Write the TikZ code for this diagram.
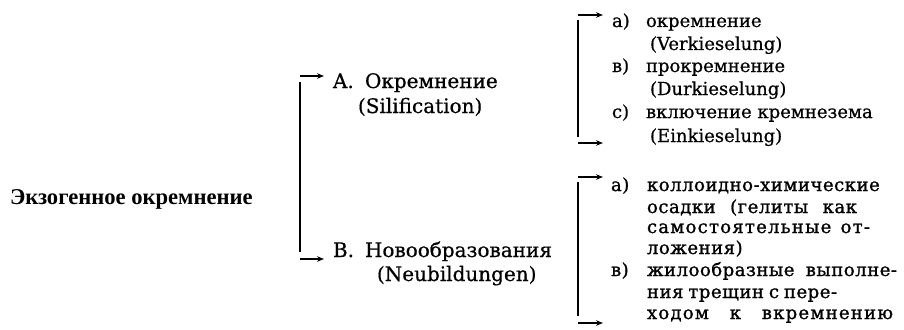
\documentclass[tikz,border=0pt]{standalone}
\usepackage{fontspec}
\setmainfont{DejaVu Serif}
\newfontfamily\titlefont{Liberation Serif}
\newfontfamily\rbfont[LetterSpace=3,FakeBold=1.2]{DejaVu Serif}
\newfontfamily\rcfont[LetterSpace=7,FakeBold=1.2]{DejaVu Serif}
\newfontfamily\rafont[FakeBold=0.6]{DejaVu Serif}
\usetikzlibrary{arrows.meta}
\newcommand{\jline}[2]{\makebox[#1pt][s]{#2}}
\begin{document}
\begin{tikzpicture}[x=1pt,y=-1pt,
  txt/.style={anchor=base west, inner sep=0pt, outer sep=0pt},
  ra/.style={txt, font=\rafont\fontsize{18}{18}\selectfont},
  rb/.style={txt, font=\rbfont\fontsize{18}{18}\selectfont},
  rc/.style={txt, font=\rcfont\fontsize{18}{18}\selectfont},
  mid/.style={txt, font=\rafont\fontsize{20}{20}\selectfont},
  bar/.style={line width=1.8pt},
  arr/.style={line width=1.2pt, -{Stealth[length=7pt,width=5.5pt]}}]
\fill[white] (0,0) rectangle (904,329);
\useasboundingbox (0,0) rectangle (904,329);

% title
\node[txt, font=\titlefont\bfseries\fontsize{22.6}{22.6}\selectfont] (title) at (10,204) {Экзогенное окремнение};

% middle column
\node[mid] (Alab) at (333,88) {A.};
\node[mid] (Atxt) at (365,88) {Окремнение};
\node[mid] (Asub) at (358,113) {(Silification)};
\node[mid] (Blab) at (333,257) {B.};
\node[mid] (Btxt) at (365,257) {Новообразования};
\node[mid] (Bsub) at (377,281) {(Neubildungen)};

% bracket 1
\coordinate (b1a) at (300,76);  \coordinate (b1ae) at (324,76);
\coordinate (b1t) at (300,82);  \coordinate (b1b) at (300,252);
\coordinate (b1c) at (300,259); \coordinate (b1ce) at (324,259);
\draw[bar] (b1t) -- (b1b);
\draw[arr] (b1a) -- (b1ae);
\draw[arr] (b1c) -- (b1ce);

% top right group
\node[ra] (a1l) at (612,27) {а)};
\node[ra] (a1t) at (646,27) {окремнение};
\node[ra] (a1s) at (650,50) {(Verkieselung)};
\node[ra] (a2l) at (612,72) {в)};
\node[ra] (a2t) at (646,72) {прокремнение};
\node[ra] (a2s) at (650,95) {(Durkieselung)};
\node[ra] (a3l) at (612,118) {с)};
\node[ra] (a3t) at (646,118) {включение кремнезема};
\node[ra] (a3s) at (650,142) {(Einkieselung)};

\coordinate (b2a) at (578,15);  \coordinate (b2ae) at (603,15);
\coordinate (b2t) at (578,20);  \coordinate (b2b) at (578,137);
\coordinate (b2c) at (578,143); \coordinate (b2ce) at (603,143);
\draw[bar] (b2t) -- (b2b);
\draw[arr] (b2a) -- (b2ae);
\draw[arr] (b2c) -- (b2ce);

% bottom right group
\node[rb] (c1l) at (611,191) {а)};
\node[rb] (c1t) at (647,191) {коллоидно-химические};
\node[rb] (c1u) at (647,213) {\jline{210}{осадки (гелиты как}};
\node[rc] (c1v) at (647,233) {\jline{223}{самостоятельные от-}};
\node[rb] (c1w) at (647,254) {ложения)};
\node[rb] (c2l) at (611,276) {в)};
\node[rb] (c2t) at (647,276) {\jline{250}{жилообразные выполне-}};
\node[rb] (c2u) at (647,298) {\jline{190}{ния трещин с пере-}};
\node[rc] (c2v) at (647,319) {\jline{246}{ходом к вкремнению}};

\coordinate (b3a) at (578,177); \coordinate (b3ae) at (603,177);
\coordinate (b3t) at (578,182); \coordinate (b3b) at (578,316);
\coordinate (b3c) at (578,323); \coordinate (b3ce) at (603,323);
\draw[bar] (b3t) -- (b3b);
\draw[arr] (b3a) -- (b3ae);
\draw[arr] (b3c) -- (b3ce);
\end{tikzpicture}
\end{document}
